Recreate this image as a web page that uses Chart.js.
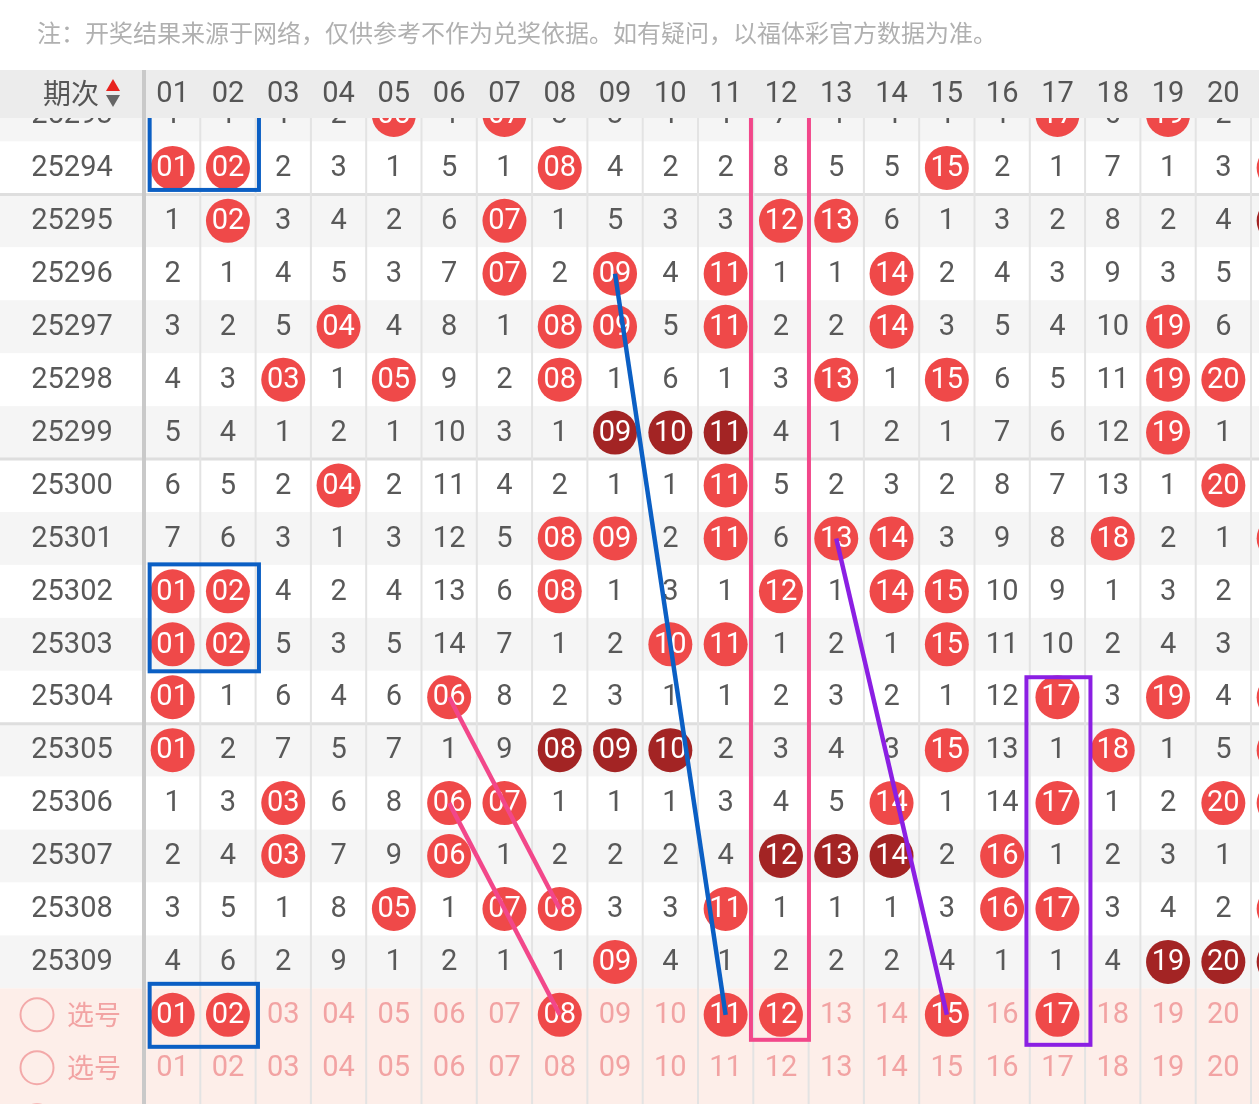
<!DOCTYPE html>
<html>
<head>
<meta charset="utf-8">
<script src="https://cdn.jsdelivr.net/npm/chart.js@4.4.0/dist/chart.umd.min.js"></script>
<style>
html, body { margin: 0; padding: 0; background: #fff; overflow: hidden; }
#wrap { position: relative; width: 1259px; height: 1104px; }
</style>
</head>
<body>
<div id="wrap"><canvas id="trend"></canvas></div>
<script>
const note = '注：开奖结果来源于网络，仅供参考不作为兑奖依据。如有疑问，以福体彩官方数据为准。';
const headTitle = '期次';
const pickLabel = '选号';

const periods = ['25293', '25294', '25295', '25296', '25297', '25298', '25299', '25300', '25301',
                 '25302', '25303', '25304', '25305', '25306', '25307', '25308', '25309'];
const numbers = ['01', '02', '03', '04', '05', '06', '07', '08', '09', '10',
                 '11', '12', '13', '14', '15', '16', '17', '18', '19', '20', '21'];

// miss counts per period, 0 = drawn that period (the 21st column is cut off at the right edge)
const miss = [
    [1, 1, 1, 2, 0, 4, 0, 3, 3, 1, 1, 7, 4, 4, 1, 1, 0, 6, 0, 2, 1],
    [0, 0, 2, 3, 1, 5, 1, 0, 4, 2, 2, 8, 5, 5, 0, 2, 1, 7, 1, 3, 0],
    [1, 0, 3, 4, 2, 6, 0, 1, 5, 3, 3, 0, 0, 6, 1, 3, 2, 8, 2, 4, 0],
    [2, 1, 4, 5, 3, 7, 0, 2, 0, 4, 0, 1, 1, 0, 2, 4, 3, 9, 3, 5, 1],
    [3, 2, 5, 0, 4, 8, 1, 0, 0, 5, 0, 2, 2, 0, 3, 5, 4, 10, 0, 6, 2],
    [4, 3, 0, 1, 0, 9, 2, 0, 1, 6, 1, 3, 0, 1, 0, 6, 5, 11, 0, 0, 3],
    [5, 4, 1, 2, 1, 10, 3, 1, 0, 0, 0, 4, 1, 2, 1, 7, 6, 12, 0, 1, 4],
    [6, 5, 2, 0, 2, 11, 4, 2, 1, 1, 0, 5, 2, 3, 2, 8, 7, 13, 1, 0, 5],
    [7, 6, 3, 1, 3, 12, 5, 0, 0, 2, 0, 6, 0, 0, 3, 9, 8, 0, 2, 1, 0],
    [0, 0, 4, 2, 4, 13, 6, 0, 1, 3, 1, 0, 1, 0, 0, 10, 9, 1, 3, 2, 1],
    [0, 0, 5, 3, 5, 14, 7, 1, 2, 0, 0, 1, 2, 1, 0, 11, 10, 2, 4, 3, 2],
    [0, 1, 6, 4, 6, 0, 8, 2, 3, 1, 1, 2, 3, 2, 1, 12, 0, 3, 0, 4, 0],
    [0, 2, 7, 5, 7, 1, 9, 0, 0, 0, 2, 3, 4, 3, 0, 13, 1, 0, 1, 5, 0],
    [1, 3, 0, 6, 8, 0, 0, 1, 1, 1, 3, 4, 5, 0, 1, 14, 0, 1, 2, 0, 0],
    [2, 4, 0, 7, 9, 0, 1, 2, 2, 2, 4, 0, 0, 0, 2, 0, 1, 2, 3, 1, 1],
    [3, 5, 1, 8, 0, 1, 0, 0, 3, 3, 0, 1, 1, 1, 3, 0, 0, 3, 4, 2, 0],
    [4, 6, 2, 9, 1, 2, 1, 1, 0, 4, 1, 2, 2, 2, 4, 1, 1, 4, 0, 0, 0]
];

// runs of consecutive numbers (dark balls)
const runs = {
    '25295': [21],
    '25299': [9, 10, 11],
    '25305': [8, 9, 10],
    '25307': [12, 13, 14],
    '25309': [19, 20, 21]
};

const pickRows = 3;
const picks = [1, 2, 8, 11, 12, 15, 17];

// trend links [period, number]
const linkBlue = [['25296', 9], [pickLabel, 11]];
const linkPinkA = [['25304', 6], ['25308', 8]];
const linkPinkB = [['25306', 6], [pickLabel, 8]];
const linkPurple = [['25301', 13], [pickLabel, 15]];

// boxes: [firstPeriod, lastPeriod, firstNumber, lastNumber]
const boxBlueA = ['25293', '25294', 1, 2];
const boxBlueB = ['25302', '25303', 1, 2];
const boxBlueC = [pickLabel, pickLabel, 1, 2];
const boxPink = ['25293', pickLabel, 12, 12];
const boxPurple = ['25304', pickLabel, 17, 17];

const rowOf = p => p === pickLabel ? periods.length : periods.indexOf(p);
const toPoints = link => link.map(([p, n]) => ({ x: n, y: rowOf(p) }));

const redBalls = [];
const darkBalls = [];
miss.forEach((row, i) => {
    row.forEach((v, c) => {
        if (v !== 0) return;
        const n = c + 1;
        const dark = (runs[periods[i]] || []).includes(n);
        (dark ? darkBalls : redBalls).push({ x: n, y: i });
    });
});
const pickBalls = picks.map(n => ({ x: n, y: periods.length }));

const DIGITS = '"Roboto", "DejaVu Sans", sans-serif';
const CJK = '"Noto Sans CJK SC", "Noto Sans", sans-serif';

const boxStyles = [
    { box: boxBlueA, color: '#0b5fc4', padL: 23, padR: 31, padT: 22, padB: 22 },
    { box: boxBlueB, color: '#0b5fc4', padL: 23, padR: 31, padT: 27, padB: 27 },
    { box: boxBlueC, color: '#0b5fc4', padL: 23, padR: 30, padT: 31, padB: 32 },
    { box: boxPink, color: '#f2478a', padL: 30, padR: 28, padT: 26, padB: 25 },
    { box: boxPurple, color: '#8b1fe3', padL: 31, padR: 33, padT: 20, padB: 30 }
];

const gridPlugin = {
    id: 'grid',
    beforeDatasetsDraw(chart) {
        const { ctx, width, height } = chart;
        const { x, y } = chart.scales;
        const rh = y.getPixelForValue(1) - y.getPixelForValue(0);
        ctx.save();

        periods.forEach((p, i) => {
            ctx.fillStyle = i % 2 === 0 ? '#f5f5f5' : '#ffffff';
            ctx.fillRect(0, y.getPixelForValue(i) - rh / 2, width, rh);
        });
        const pickTop = y.getPixelForValue(periods.length) - rh / 2;
        ctx.fillStyle = '#fdeee9';
        ctx.fillRect(0, pickTop, width, height - pickTop);

        // separator after every fifth period
        ctx.strokeStyle = '#dedede';
        ctx.lineWidth = 3;
        periods.forEach((p, i) => {
            if (i < periods.length - 1 && (p.endsWith('4') || p.endsWith('9'))) {
                const yy = y.getPixelForValue(i) + rh / 2;
                ctx.beginPath(); ctx.moveTo(0, yy); ctx.lineTo(width, yy); ctx.stroke();
            }
        });

        ctx.strokeStyle = '#e3e3e3';
        ctx.lineWidth = 2;
        numbers.forEach((n, c) => {
            const xx = x.getPixelForValue(c + 1.5);
            ctx.beginPath(); ctx.moveTo(xx, 0); ctx.lineTo(xx, height); ctx.stroke();
        });
        ctx.strokeStyle = '#c9c9c9';
        ctx.lineWidth = 4;
        const sep = x.getPixelForValue(0.5) - 1;
        ctx.beginPath(); ctx.moveTo(sep, 0); ctx.lineTo(sep, height); ctx.stroke();

        ctx.textAlign = 'center';
        ctx.textBaseline = 'middle';
        ctx.font = '29px ' + DIGITS;
        ctx.fillStyle = '#595959';
        periods.forEach((p, i) => {
            const yy = y.getPixelForValue(i) + 1;
            ctx.fillText(p, 72, yy);
            miss[i].forEach((v, c) => {
                if (v > 0) ctx.fillText(String(v), x.getPixelForValue(c + 1), yy);
            });
        });

        for (let k = 0; k < pickRows; k++) {
            const yy = y.getPixelForValue(periods.length + k);
            ctx.strokeStyle = '#f3a9a9';
            ctx.lineWidth = 2;
            ctx.beginPath(); ctx.arc(37, yy, 16.5, 0, Math.PI * 2); ctx.stroke();
            ctx.fillStyle = '#f2a3a3';
            ctx.font = '27px ' + CJK;
            ctx.textAlign = 'left';
            ctx.fillText(pickLabel, 67, yy);
            ctx.textAlign = 'center';
            ctx.font = '29px ' + DIGITS;
            numbers.forEach((n, c) => {
                if (k === 0 && picks.includes(c + 1)) return;
                ctx.fillText(n, x.getPixelForValue(c + 1), yy + 1);
            });
        }
        ctx.restore();
    },
    afterDatasetDraw(chart, args) {
        const ds = chart.data.datasets[args.index];
        if (!ds.ballText) return;
        const { ctx } = chart;
        const { x, y } = chart.scales;
        ctx.save();
        ctx.font = '29px ' + DIGITS;
        ctx.fillStyle = '#ffffff';
        ctx.textAlign = 'center';
        ctx.textBaseline = 'middle';
        ds.data.forEach(pt => {
            ctx.fillText(numbers[pt.x - 1], x.getPixelForValue(pt.x), y.getPixelForValue(pt.y) + 1);
        });
        ctx.restore();
    },
    afterDraw(chart) {
        const { ctx, width } = chart;
        const { x, y } = chart.scales;
        ctx.save();

        boxStyles.forEach(s => {
            const [p0, p1, n0, n1] = s.box;
            const left = x.getPixelForValue(n0) - s.padL;
            const right = x.getPixelForValue(n1) + s.padR;
            const top = y.getPixelForValue(rowOf(p0)) - s.padT;
            const bottom = y.getPixelForValue(rowOf(p1)) + s.padB;
            ctx.strokeStyle = s.color;
            ctx.lineWidth = 4;
            ctx.strokeRect(left, top, right - left, bottom - top);
        });

        // header
        ctx.fillStyle = '#ffffff';
        ctx.fillRect(0, 0, width, 70);
        ctx.fillStyle = '#ececec';
        ctx.fillRect(0, 70, width, 48);
        ctx.strokeStyle = '#c9c9c9';
        ctx.lineWidth = 4;
        const sep = x.getPixelForValue(0.5) - 1;
        ctx.beginPath(); ctx.moveTo(sep, 70); ctx.lineTo(sep, 118); ctx.stroke();

        ctx.fillStyle = '#b0b0b0';
        ctx.font = '24px ' + CJK;
        ctx.textAlign = 'left';
        ctx.textBaseline = 'middle';
        ctx.fillText(note, 37, 33);

        ctx.fillStyle = '#555555';
        ctx.font = '28px ' + CJK;
        ctx.fillText(headTitle, 43, 93);
        ctx.fillStyle = '#e8231f';
        ctx.beginPath(); ctx.moveTo(113, 79); ctx.lineTo(120, 91); ctx.lineTo(106, 91); ctx.closePath(); ctx.fill();
        ctx.fillStyle = '#666666';
        ctx.beginPath(); ctx.moveTo(106, 95); ctx.lineTo(120, 95); ctx.lineTo(113, 107); ctx.closePath(); ctx.fill();

        ctx.textAlign = 'center';
        ctx.font = '29px ' + DIGITS;
        ctx.fillStyle = '#555555';
        numbers.forEach((n, c) => ctx.fillText(n, x.getPixelForValue(c + 1), 95));
        ctx.restore();
    }
};

const ball = (data, color) => ({
    data: data,
    ballText: true,
    order: 2,
    pointRadius: 22,
    pointHoverRadius: 22,
    pointBackgroundColor: color,
    pointBorderWidth: 0,
    showLine: false
});

const link = (pts, color) => ({
    type: 'line',
    data: toPoints(pts),
    order: 1,
    showLine: true,
    borderColor: color,
    borderWidth: 4.5,
    pointRadius: 0,
    fill: false
});

new Chart(document.getElementById('trend'), {
    type: 'scatter',
    data: {
        datasets: [
            ball(redBalls, '#ef4949'),
            ball(darkBalls, '#a32424'),
            ball(pickBalls, '#ef4949'),
            link(linkBlue, '#0b5fc4'),
            link(linkPinkA, '#f2478a'),
            link(linkPinkB, '#f2478a'),
            link(linkPurple, '#8b1fe3')
        ]
    },
    options: {
        responsive: true,
        maintainAspectRatio: false,
        animation: false,
        events: [],
        layout: { padding: 0, autoPadding: false },
        plugins: {
            legend: { display: false },
            tooltip: { enabled: false }
        },
        scales: {
            x: { type: 'linear', display: false, min: -2.1221, max: 20.6447 },
            y: { type: 'linear', display: false, reverse: true, min: -2.1727, max: 18.685 }
        }
    },
    plugins: [gridPlugin]
});
</script>
</body>
</html>
